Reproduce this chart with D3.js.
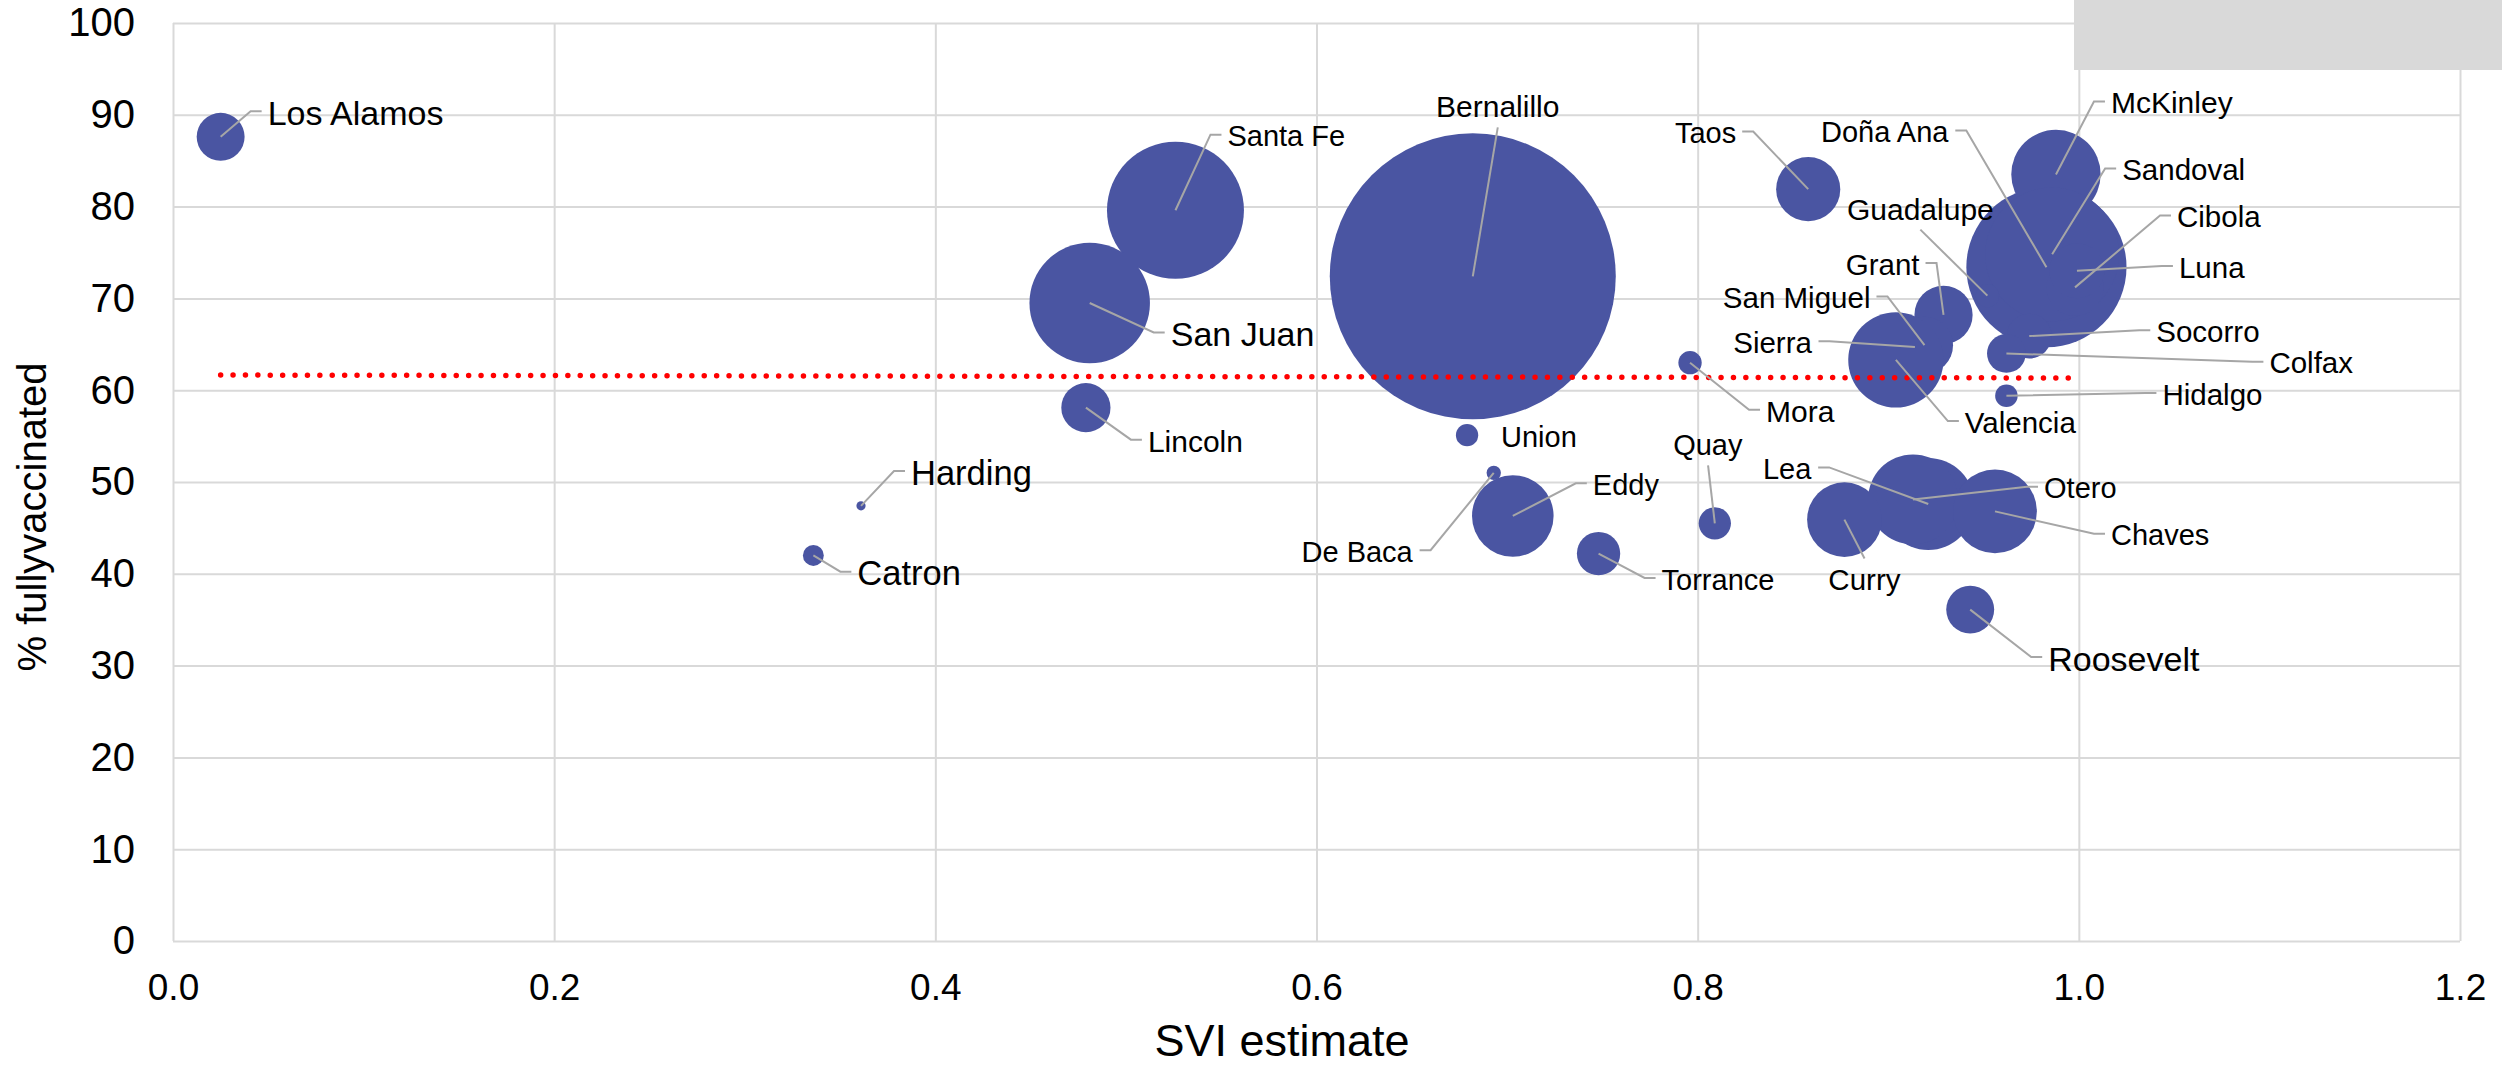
<!DOCTYPE html>
<html>
<head>
<meta charset="utf-8">
<script src="https://cdn.jsdelivr.net/npm/d3@7"></script>
<style>
  html, body { margin: 0; padding: 0; background: #ffffff; }
  svg { display: block; }
  text { font-family: "Liberation Sans", Arial, sans-serif; fill: #000; }
</style>
</head>
<body>
<svg id="chart" width="2502" height="1068"></svg>
<script>
// ---------------- data ----------------
const counties = ["Los Alamos","Santa Fe","San Juan","Bernalillo","Taos","Doña Ana","McKinley","Sandoval",
  "Cibola","Luna","Guadalupe","Grant","San Miguel","Sierra","Socorro","Colfax","Mora","Valencia","Hidalgo",
  "Lincoln","Union","Harding","Catron","Eddy","De Baca","Torrance","Quay","Lea","Otero","Chaves","Curry","Roosevelt"];
const sviEstimate = [0.025,0.526,0.481,0.682,0.858,0.983,0.988,0.986,
  0.998,0.999,0.952,0.929,0.919,0.914,0.974,0.962,0.796,0.904,0.962,
  0.479,0.679,0.361,0.336,0.703,0.693,0.748,0.809,0.921,0.913,0.956,0.877,0.943];
const pctFullyVaccinated = [87.6,79.6,69.5,72.4,81.9,73.4,83.5,74.8,
  71.2,73.0,70.3,68.2,64.9,64.7,65.9,64.0,63.0,63.3,59.4,
  58.1,55.1,47.4,42.0,46.3,51.0,42.2,45.5,47.6,48.1,46.8,45.9,36.1];
// bubble size (population, thousands)
const population = [19,155,120,676,34,212,66,148,
  27,25,4.4,28,27,11,16.6,12.4,4.5,75,4.2,
  20,4.1,0.7,3.6,55,1.7,15.5,8.6,70,67,58,46,19];
const xTicks = [0.0,0.2,0.4,0.6,0.8,1.0,1.2];
const yTicks = [0,10,20,30,40,50,60,70,80,90,100];
const trendX = [0.025, 0.998];
const trendY = [61.65, 61.33];

// label layout: [dx, dy, fontSize, anchor, leader]
const labelLayout = [
  [47,-12,34,"start","side"],[52,-64,29,"start","side"],[81,43,34,"start","side"],[25,-159,30,"middle","above"],
  [-72,-46,29,"end","side"],[-98,-125,29,"end","side"],[55,-61,30,"start","side"],[70,-74,29.5,"start","side"],
  [102,-60,29.5,"start","side"],[102,7,29.5,"start","side"],[-67,-76,30,"middle","above"],[-24,-40,29.5,"end","side"],
  [-54,-37,29.5,"end","side"],[-103,6,29.5,"end","side"],[127,6,29.5,"start","side"],[263,20,29.5,"start","side"],
  [76,59,30,"start","side"],[69,73,29.5,"start","side"],[156,9,29.5,"start","side"],
  [62,44,30,"start","side"],[34,12,29,"start","none"],[50,-21,34.5,"start","side"],[44,30,34.5,"start","side"],
  [80,-21,29,"start","side"],[-81,89,29,"end","side"],[63,36,29,"start","side"],[-7,-68,29,"middle","above"],
  [-117,-25,29,"end","side"],[131,-1,29,"start","side"],[116,34,29,"start","side"],[20,70,29.5,"middle","below"],
  [78,61,34,"start","side"]
];

// ---------------- layout ----------------
const plotL = 173, plotR = 2460, plotT = 23, plotB = 941;
const svg = d3.select("#chart");
const x = d3.scaleLinear().domain([0, 1.2]).range([plotL, plotR]);
const y = d3.scaleLinear().domain([0, 100]).range([plotB, plotT]);
const r = d3.scaleSqrt().domain([0, 676]).range([0, 143]);

svg.append("rect").attr("width", 2502).attr("height", 1068).attr("fill", "#fff");

// gridlines + axes
const gridColor = "#d9d9d9";
const yAxis = svg.append("g").attr("transform", `translate(${plotL},0)`)
  .call(d3.axisLeft(y).tickValues(yTicks).tickSize(-(plotR - plotL)).tickPadding(38).tickFormat(d3.format("d")));
yAxis.select(".domain").remove();
yAxis.selectAll("line").attr("stroke", gridColor).attr("stroke-width", 2);
yAxis.selectAll("text").style("font-size", "40px").attr("fill", "#000");

const xAxis = svg.append("g").attr("transform", `translate(0,${plotB})`)
  .call(d3.axisBottom(x).tickValues(xTicks).tickSize(-(plotB - plotT)).tickPadding(33).tickFormat(d3.format(".1f")));
xAxis.select(".domain").remove();
xAxis.selectAll("line").attr("stroke", gridColor).attr("stroke-width", 2);
xAxis.selectAll("text").style("font-size", "37px").attr("fill", "#000");

// gray box top right
svg.append("rect").attr("x", 2074).attr("y", 0).attr("width", 2502 - 2074).attr("height", 70).attr("fill", "#d9d9d9");

// axis titles
svg.append("text").attr("transform", `translate(46,517) rotate(-90)`).attr("text-anchor", "middle")
  .style("font-size", "40px").text("% fullyvaccinated");
svg.append("text").attr("x", 1282).attr("y", 1056).attr("text-anchor", "middle")
  .style("font-size", "45px").text("SVI estimate");

// data
const data = counties.map((c, i) => ({
  name: c, sx: sviEstimate[i], sy: pctFullyVaccinated[i], pop: population[i], lay: labelLayout[i]
}));

// bubbles
svg.append("g").selectAll("circle").data(data).join("circle")
  .attr("cx", d => x(d.sx)).attr("cy", d => y(d.sy)).attr("r", d => r(d.pop))
  .attr("fill", "#4a55a2");

// trendline
svg.append("line")
  .attr("x1", x(trendX[0])).attr("y1", y(trendY[0]))
  .attr("x2", x(trendX[1])).attr("y2", y(trendY[1]))
  .attr("stroke", "#ff0000").attr("stroke-width", 5.5)
  .attr("stroke-linecap", "round").attr("stroke-dasharray", "0 12.4");

// labels
const leaderG = svg.append("g");
const labelG = svg.append("g");
data.forEach(d => {
  const px = x(d.sx), py = y(d.sy);
  const [dx, dy, fs, anchor, leader] = d.lay;
  const t = labelG.append("text")
    .attr("x", px + dx).attr("y", py + dy)
    .attr("text-anchor", anchor)
    .style("font-size", fs + "px")
    .text(d.name);
  const bb = t.node().getBBox();
  const base = py + dy;
  let pts = null;
  if (leader === "side") {
    const ly = base - 0.4 * fs;
    if (anchor === "start") {
      const x0 = bb.x - 6;
      pts = [[x0, ly], [x0 - 11, ly], [px, py]];
    } else {
      const x0 = bb.x + bb.width + 6;
      pts = [[x0, ly], [x0 + 11, ly], [px, py]];
    }
  } else if (leader === "above") {
    pts = [[bb.x + bb.width / 2, base + 10], [px, py]];
  } else if (leader === "below") {
    pts = [[bb.x + bb.width / 2, base - 0.716 * fs - 10], [px, py]];
  }
  if (pts) {
    leaderG.append("path").attr("d", d3.line()(pts))
      .attr("fill", "none").attr("stroke", "#a6a6a6").attr("stroke-width", 2);
  }
});
</script>
</body>
</html>
